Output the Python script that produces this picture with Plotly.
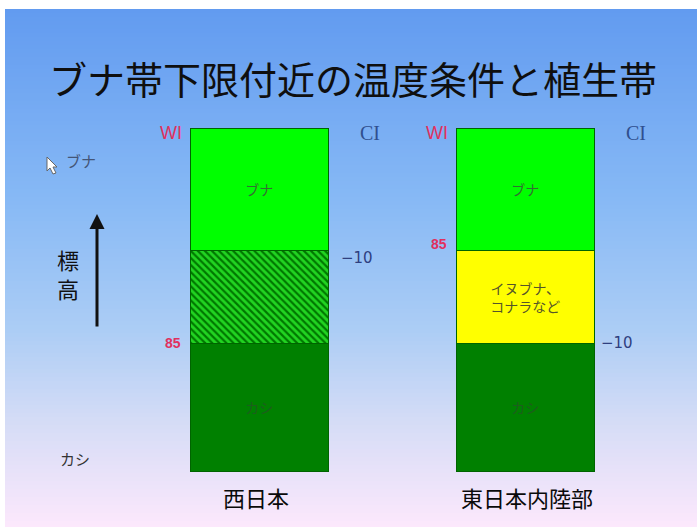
import plotly.graph_objects as go

# --- data -------------------------------------------------------------
regions = ["西日本", "東日本内陸部"]
# relative heights of the vegetation bands (bottom to top)
kashi_height = [128, 128]
middle_height = [93, 93]
buna_height = [122, 122]
middle_label = ["", "イヌブナ、<br>コナラなど"]
# temperature index values written at the band boundaries
wi_boundary = ["85", "85"]
ci_boundary = ["−10", "−10"]
# which boundary (0 = kashi top, 1 = middle top) each index sits on
wi_level = [0, 1]
ci_level = [1, 0]

W, H = 700, 529
BAR_W = 0.519
FONT = "Noto Sans CJK JP"
x_pos = [0, 1]
OUTLINE = dict(color="#006400", width=1.5)


def P(x, y):
    """pixel -> paper coordinates"""
    return x / W, 1 - y / H


fig = go.Figure()

# stacked vegetation bands
fig.add_trace(go.Bar(
    x=x_pos, y=kashi_height, width=BAR_W,
    marker=dict(color="#008000", line=OUTLINE),
    text=["カシ", "カシ"], textposition="inside", insidetextanchor="middle",
    textfont=dict(family=FONT, size=14, color="#1d5e1d"),
    hoverinfo="skip", showlegend=False,
))
# western Japan: kashi / buna overlap zone (hatched)
fig.add_trace(go.Bar(
    x=x_pos[:1], y=middle_height[:1], width=BAR_W,
    marker=dict(
        color="#007800", line=OUTLINE,
        pattern=dict(shape="\\", fgcolor="#22d422", fgopacity=1,
                     size=5, solidity=0.55, fillmode="overlay"),
    ),
    hoverinfo="skip", showlegend=False,
))
# inland eastern Japan: inubuna / konara zone
fig.add_trace(go.Bar(
    x=x_pos[1:], y=middle_height[1:], width=BAR_W,
    marker=dict(color="#ffff00", line=OUTLINE),
    text=middle_label[1:], textposition="inside", insidetextanchor="middle",
    textfont=dict(family=FONT, size=15, color="#55552a"),
    hoverinfo="skip", showlegend=False,
))
fig.add_trace(go.Bar(
    x=x_pos, y=buna_height, width=BAR_W,
    marker=dict(color="#00ff00", line=OUTLINE),
    text=["ブナ", "ブナ"], textposition="inside", insidetextanchor="middle",
    textfont=dict(family=FONT, size=15, color="#336f33"),
    hoverinfo="skip", showlegend=False,
))

annotations = []
for i, x in enumerate(x_pos):
    bounds = [kashi_height[i], kashi_height[i] + middle_height[i]]
    top = bounds[1] + buna_height[i]
    left = x - BAR_W / 2
    right = x + BAR_W / 2
    annotations += [
        dict(x=left, y=top, xref="x", yref="y", text="WI", showarrow=False,
             xanchor="right", yanchor="middle", xshift=-7, yshift=-4,
             font=dict(family="Liberation Sans", size=18, color="#e0305e")),
        dict(x=right, y=top, xref="x", yref="y", text="CI", showarrow=False,
             xanchor="left", yanchor="middle", xshift=29, yshift=-4,
             font=dict(family="Liberation Serif", size=20, color="#2f4f8f")),
        dict(x=left, y=bounds[wi_level[i]], xref="x", yref="y",
             text="<b>%s</b>" % wi_boundary[i], showarrow=False, xanchor="right",
             yanchor="middle", xshift=-8, yshift=1 if i == 0 else 7,
             font=dict(family="Liberation Sans", size=14, color="#e0305e")),
        dict(x=right, y=bounds[ci_level[i]], xref="x", yref="y",
             text=ci_boundary[i], showarrow=False, xanchor="left",
             yanchor="middle", xshift=10 if i == 0 else 4, yshift=-7 if i == 0 else 1,
             font=dict(family="DejaVu Sans", size=15, color="#2f3f7f")),
        dict(x=x, y=-25, xref="x", yref="y", text=regions[i], showarrow=False,
             xanchor="center", yanchor="middle", xshift=-4 if i == 0 else 1,
             font=dict(family=FONT, size=22, color="#0a0a0a")),
    ]

# title and side labels
tx, ty = P(353, 78)
annotations.append(dict(x=tx, y=ty, xref="paper", yref="paper",
                        text="ブナ帯下限付近の温度条件と植生帯", showarrow=False,
                        xanchor="center", yanchor="middle",
                        font=dict(family=FONT, size=38, color="#0f0f0f")))
bx, by = P(64, 160)
annotations.append(dict(x=bx, y=by, xref="paper", yref="paper", text="ブナ",
                        showarrow=False, xanchor="left", yanchor="middle",
                        font=dict(family=FONT, size=15, color="#445577")))
kx, ky = P(58, 458)
annotations.append(dict(x=kx, y=ky, xref="paper", yref="paper", text="カシ",
                        showarrow=False, xanchor="left", yanchor="middle",
                        font=dict(family=FONT, size=15, color="#333333")))
for ch, cy in (("標", 259), ("高", 288)):
    hx, hy = P(68, cy)
    annotations.append(dict(x=hx, y=hy, xref="paper", yref="paper", text=ch,
                            showarrow=False, xanchor="center", yanchor="middle",
                            font=dict(family=FONT, size=22, color="#111111")))
ax0, ay0 = P(97, 214)
annotations.append(dict(x=ax0, y=ay0, xref="paper", yref="paper", text="",
                        showarrow=True, arrowhead=2, arrowsize=1, arrowwidth=3,
                        arrowcolor="#111111", ax=0, ay=114, axref="pixel",
                        ayref="pixel"))

# slide background: vertical gradient drawn as thin strips
stops = [(9, (98, 155, 240)), (200, (135, 185, 245)), (330, (172, 205, 245)),
         (420, (212, 220, 246)), (527, (252, 232, 252))]


def grad(y):
    for (y0, c0), (y1, c1) in zip(stops, stops[1:]):
        if y0 <= y <= y1:
            t = (y - y0) / (y1 - y0)
            return "rgb(%d,%d,%d)" % tuple(round(a + (b - a) * t) for a, b in zip(c0, c1))
    return "rgb(%d,%d,%d)" % stops[-1][1]


shapes = []
step = 4
for y in range(9, 527, step):
    x0, y0 = P(5, y)
    x1, y1 = P(697, min(y + step, 527))
    shapes.append(dict(type="rect", xref="paper", yref="paper", x0=x0, x1=x1,
                       y0=y1, y1=y0, fillcolor=grad(y + step / 2),
                       line=dict(width=0), layer="below"))

# mouse pointer glyph next to the left-hand label
pts = [(47, 157), (47, 171), (50, 168), (53, 174), (56, 173), (53, 167), (57, 167)]
path = "M " + " L ".join("%.5f,%.5f" % P(px, py) for px, py in pts) + " Z"
shapes.append(dict(type="path", xref="paper", yref="paper", path=path,
                   fillcolor="white", line=dict(color="#666666", width=1)))

fig.update_layout(
    width=W, height=H,
    margin=dict(l=0, r=0, t=0, b=0),
    paper_bgcolor="white", plot_bgcolor="rgba(0,0,0,0)",
    barmode="stack", bargap=0,
    xaxis=dict(range=[-260 / 266, 440 / 266], visible=False, fixedrange=True),
    yaxis=dict(range=[-57, 472], visible=False, fixedrange=True),
    annotations=annotations, shapes=shapes,
    uniformtext=dict(mode="show", minsize=10),
)

fig.write_html("out.html")
